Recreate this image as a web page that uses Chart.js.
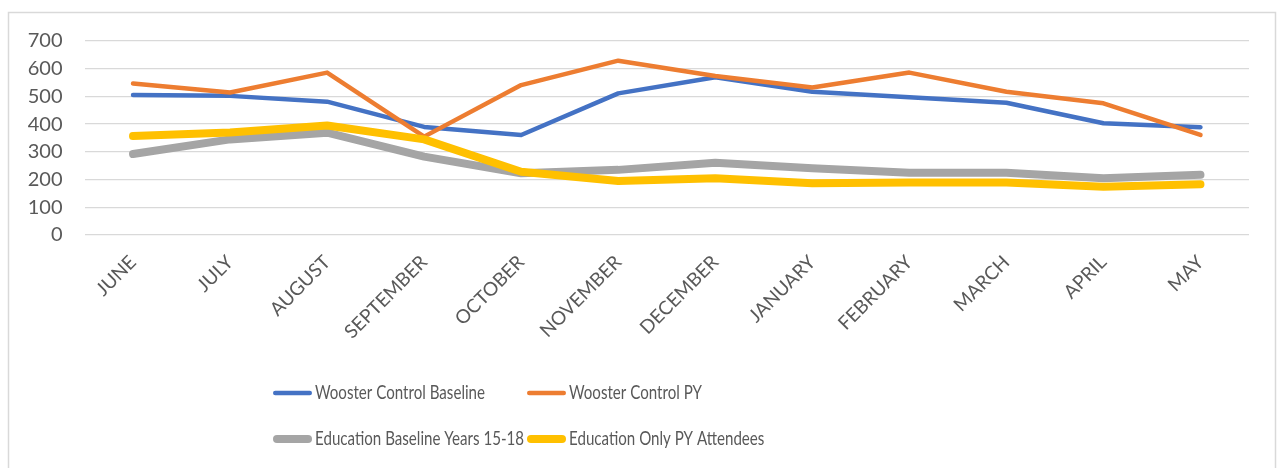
<!DOCTYPE html>
<html>
<head>
<meta charset="utf-8">
<script src="https://cdn.jsdelivr.net/npm/chart.js@4.4.1/dist/chart.umd.min.js"></script>
<style>
  html, body { margin: 0; padding: 0; background: #fff; }
  #wrap { width: 1282px; height: 468px; position: relative; }
</style>
</head>
<body>
<div id="wrap"><canvas id="c" width="1282" height="468"></canvas></div>
<script>
// Monthly categories (June through May)
const months = ['JUNE', 'JULY', 'AUGUST', 'SEPTEMBER', 'OCTOBER', 'NOVEMBER',
                'DECEMBER', 'JANUARY', 'FEBRUARY', 'MARCH', 'APRIL', 'MAY'];

// Series values
const woosterControlBaseline = [505, 502, 481, 390, 361, 511, 569, 517, 497, 477, 403, 389];
const woosterControlPY       = [547, 514, 586, 355, 541, 629, 574, 532, 586, 517, 475, 361];
const educationBaseline      = [292, 345, 369, 283, 223, 235, 261, 241, 225, 225, 205, 217];
const educationOnlyPY        = [357, 370, 395, 345, 228, 195, 205, 187, 189, 189, 174, 183];

// Series names
const seriesNames = ['Wooster Control Baseline', 'Wooster Control PY',
                     'Education Baseline Years 15-18', 'Education Only PY Attendees'];

// Value axis
const yMin = 0, yMax = 700, yStep = 100;

const FONT = "Lato, 'Open Sans', sans-serif";
const TEXT = '#595959';

// White background and thin outer frame
const frame = {
  id: 'frame',
  beforeDraw(chart) {
    const ctx = chart.ctx;
    ctx.save();
    ctx.fillStyle = '#fff';
    ctx.fillRect(0, 0, chart.width, chart.height);
    ctx.strokeStyle = '#d9d9d9';
    ctx.lineWidth = 1.5;
    ctx.strokeRect(8.5, 12.5, 1267, 480);
    ctx.restore();
  }
};

// Two-column legend laid out on a fixed grid below the plot
const gridLegend = {
  id: 'gridLegend',
  afterDraw(chart) {
    const ctx = chart.ctx;
    const cols = [273, 527];
    const rows = [393, 439];
    const sampleLen = 39;
    ctx.save();
    ctx.font = '20px ' + FONT;
    ctx.textBaseline = 'middle';
    ctx.textAlign = 'left';
    // narrow the legend face so the first name spans 170px
    const squeeze = 170 / ctx.measureText(seriesNames[0]).width;
    chart.data.datasets.forEach((ds, i) => {
      const x = cols[i % 2];
      const y = rows[Math.floor(i / 2)];
      ctx.strokeStyle = ds.borderColor;
      ctx.lineWidth = ds.borderWidth;
      ctx.lineCap = 'round';
      ctx.beginPath();
      ctx.moveTo(x + ds.borderWidth / 2, y);
      ctx.lineTo(x + sampleLen - ds.borderWidth / 2, y);
      ctx.stroke();
      ctx.fillStyle = TEXT;
      ctx.save();
      ctx.translate(x + sampleLen + 3, y);
      ctx.scale(squeeze, 1);
      ctx.fillText(ds.label, 0, 0);
      ctx.restore();
    });
    ctx.restore();
  }
};

const makeSet = (label, data, color, width, order) => ({
  label, data,
  borderColor: color,
  backgroundColor: color,
  borderWidth: width,
  borderJoinStyle: 'round',
  borderCapStyle: 'round',
  pointRadius: 0,
  pointHoverRadius: 0,
  tension: 0,
  fill: false,
  order
});

new Chart(document.getElementById('c'), {
  type: 'line',
  data: {
    labels: months,
    datasets: [
      makeSet(seriesNames[0], woosterControlBaseline, '#4472C4', 4.5, 4),
      makeSet(seriesNames[1], woosterControlPY,       '#ED7D31', 4.5, 3),
      makeSet(seriesNames[2], educationBaseline,      '#A5A5A5', 8, 2),
      makeSet(seriesNames[3], educationOnlyPY,        '#FFC000', 8, 1)
    ]
  },
  options: {
    responsive: false,
    animation: false,
    devicePixelRatio: 1,
    layout: { padding: { left: 0, top: 41, right: 33, bottom: 113 } },
    plugins: {
      legend: { display: false },
      tooltip: { enabled: false }
    },
    scales: {
      x: {
        offset: true,
        grid: { display: false, drawTicks: false },
        border: { display: false },
        ticks: {
          autoSkip: false,
          minRotation: 45,
          maxRotation: 45,
          padding: 16,
          color: TEXT,
          font: { family: FONT, size: 19 }
        },
        afterFit(scale) { scale.height = 120; }
      },
      y: {
        min: yMin,
        max: yMax,
        grid: { color: '#d9d9d9', lineWidth: 1.3, drawTicks: false },
        border: { display: false },
        ticks: {
          stepSize: yStep,
          padding: 22,
          color: TEXT,
          font: { family: FONT, size: 20 }
        },
        afterFit(scale) { scale.width = 84.5; }
      }
    }
  },
  plugins: [frame, gridLegend]
});
</script>
</body>
</html>
